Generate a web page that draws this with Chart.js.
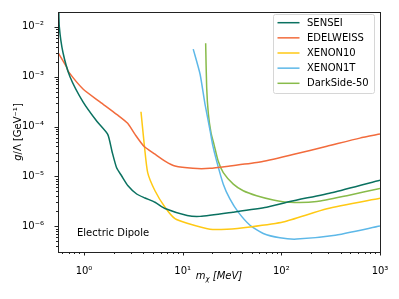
<!DOCTYPE html>
<html>
<head>
<meta charset="utf-8">
<script src="https://cdn.jsdelivr.net/npm/chart.js@4"></script>
<style>
  html, body { margin: 0; padding: 0; background: #fff; }
  #wrap { width: 399px; height: 299px; }
</style>
</head>
<body>
<div id="wrap"><canvas id="myChart" width="399" height="299"></canvas></div>
<script>
// curves, mass in MeV, coupling in GeV^-1
const labels = ["SENSEI", "EDELWEISS", "XENON10", "XENON1T", "DarkSide-50"];
const colors = ["#0a7160", "#f26b3c", "#ffc914", "#5db8e8", "#88bb4a"];

const senseiM = [0.553, 0.562, 0.612, 0.721, 0.977, 1.355, 1.74, 1.92, 2.14, 2.41, 2.79, 3.42, 4.15, 5.24, 6.62, 11.1, 15.0, 32.3, 71, 122, 333, 1000];
const senseiG = [3e-2, 1e-2, 3.05e-3, 1e-3, 3.13e-4, 1.26e-4, 6.95e-5, 3.2e-5, 1.49e-5, 1.02e-5, 6.5e-6, 4.44e-6, 3.7e-6, 3.03e-6, 2.27e-6, 1.65e-6, 1.58e-6, 1.92e-6, 2.41e-6, 3.13e-6, 4.78e-6, 8.4e-6];

const edelM = [0.545, 0.668, 0.689, 0.977, 1.45, 2.16, 2.77, 3.29, 4.05, 5.24, 6.62, 8.36, 12.7, 18.9, 30.1, 60.7, 131, 290, 625, 1000];
const edelG = [3.05e-3, 1.54e-3, 1.29e-3, 5.65e-4, 3.12e-4, 1.73e-4, 1.16e-4, 6.95e-5, 4.02e-5, 2.79e-5, 2.03e-5, 1.61e-5, 1.45e-5, 1.45e-5, 1.62e-5, 1.94e-5, 2.75e-5, 4.02e-5, 5.86e-5, 7.05e-5];

const xe10M = [3.78, 4.08, 4.42, 5.24, 6.62, 8.36, 11.1, 18.9, 28.1, 48.1, 104, 290, 1000];
const xe10G = [1.98e-4, 4.35e-5, 1.19e-5, 5.16e-6, 2.41e-6, 1.42e-6, 1.15e-6, 8.72e-7, 8.72e-7, 9.7e-7, 1.22e-6, 2.24e-6, 3.63e-6];

const xe1tM = [12.8, 15.0, 16.8, 18.9, 20.1, 22.1, 25.8, 30.1, 36.6, 48.1, 65.6, 96.8, 143, 336, 1000];
const xe1tG = [3.56e-3, 1.13e-3, 2.89e-4, 8.6e-5, 4.35e-5, 2.03e-5, 7.0e-6, 3.54e-6, 1.92e-6, 1.05e-6, 7.16e-7, 5.86e-7, 5.53e-7, 6.5e-7, 1.01e-6];

const dsM = [17.1, 17.5, 18.2, 19.4, 20.8, 22.9, 25.8, 32.6, 41.1, 56.2, 82.8, 122, 229, 462, 1000];
const dsG = [4.67e-3, 6.19e-4, 1.83e-4, 7.36e-5, 4.35e-5, 2.03e-5, 1.19e-5, 7.0e-6, 5.16e-6, 4.11e-6, 3.38e-6, 3.03e-6, 3.13e-6, 4.11e-6, 5.73e-6];

const xTicks = [1, 10, 100, 1000];
const yTicks = [1e-6, 1e-5, 1e-4, 1e-3, 1e-2];
const xMin = 0.545, xMax = 1000;
const yMin = 3.05e-7, yMax = 0.0198;

const sup = { "-": "⁻", "0": "⁰", "1": "¹", "2": "²", "3": "³", "4": "⁴", "5": "⁵", "6": "⁶", "7": "⁷", "8": "⁸", "9": "⁹" };
const powLabel = (v) => {
    const e = String(Math.round(Math.log10(v)));
    return "10" + e.split("").map(c => sup[c]).join("");
};

const pairs = (xs, ys) => xs.map((x, i) => ({ x: x, y: ys[i] }));
const series = [[senseiM, senseiG], [edelM, edelG], [xe10M, xe10G], [xe1tM, xe1tG], [dsM, dsG]];

const datasets = [];
for (let i = 0; i < labels.length; i++) {
    datasets.push({
        label: labels[i],
        data: pairs(series[i][0], series[i][1]),
        borderColor: colors[i],
        backgroundColor: colors[i],
        borderWidth: 1.5,
        pointRadius: 0,
        tension: 0.2,
        fill: false
    });
}

// frame, minor/major ticks, axis titles, legend and annotation
const decor = {
    id: "decor",
    afterDraw(chart) {
        const ctx = chart.ctx;
        const a = chart.chartArea;
        const xs = chart.scales.x, ys = chart.scales.y;
        ctx.save();
        ctx.strokeStyle = "#222";
        ctx.lineWidth = 1;

        // ticks
        const tick = (px, py, dx, dy) => {
            ctx.beginPath();
            ctx.moveTo(px, py);
            ctx.lineTo(px + dx, py + dy);
            ctx.stroke();
        };
        for (let e = -1; e <= 3; e++) {
            for (let k = 1; k <= 9; k++) {
                const v = k * Math.pow(10, e);
                if (v < xMin || v > xMax) continue;
                const px = Math.round(xs.getPixelForValue(v)) + 0.5;
                tick(px, a.bottom, 0, k == 1 ? 3.5 : 2);
            }
        }
        for (let e = -7; e <= -2; e++) {
            for (let k = 1; k <= 9; k++) {
                const v = k * Math.pow(10, e);
                if (v < yMin || v > yMax) continue;
                const py = Math.round(ys.getPixelForValue(v)) + 0.5;
                tick(a.left, py, k == 1 ? -3.5 : -2, 0);
            }
        }
        ctx.strokeRect(Math.round(a.left) + 0.5, Math.round(a.top) + 0.5, Math.round(a.right - a.left), Math.round(a.bottom - a.top));

        ctx.fillStyle = "#000";
        ctx.textBaseline = "middle";

        // x title: m_chi [MeV]
        const f1 = "italic 10px 'DejaVu Sans'";
        const f2 = "italic 7px 'DejaVu Sans'";
        ctx.font = f1;
        const wm = ctx.measureText("m").width;
        const wr = ctx.measureText(" [MeV]").width;
        ctx.font = f2;
        const wc = ctx.measureText("χ").width;
        let x0 = (a.left + a.right) / 2 - (wm + wc + wr) / 2;
        const yT = 276;
        ctx.textAlign = "left";
        ctx.font = f1;
        ctx.fillText("m", x0, yT);
        ctx.font = f2;
        ctx.fillText("χ", x0 + wm, yT + 3);
        ctx.font = f1;
        ctx.fillText(" [MeV]", x0 + wm + wc, yT);

        // y title
        ctx.save();
        ctx.translate(18, (a.top + a.bottom) / 2);
        ctx.rotate(-Math.PI / 2);
        ctx.font = "italic 10px 'DejaVu Sans'";
        const wg = ctx.measureText("g").width;
        ctx.font = "10px 'DejaVu Sans'";
        const rest = "/Λ [GeV⁻¹]";
        const wrest = ctx.measureText(rest).width;
        const y0 = -(wg + wrest) / 2;
        ctx.font = "italic 10px 'DejaVu Sans'";
        ctx.fillText("g", y0, 0);
        ctx.font = "10px 'DejaVu Sans'";
        ctx.fillText(rest, y0 + wg, 0);
        ctx.restore();

        // annotation
        ctx.font = "10px 'DejaVu Sans'";
        ctx.fillText("Electric Dipole", 77, 233);

        // legend
        const bx = 273.5, by = 14.5, bw = 101, bh = 79;
        ctx.beginPath();
        ctx.roundRect(bx, by, bw, bh, 2);
        ctx.fillStyle = "rgba(255,255,255,0.8)";
        ctx.fill();
        ctx.strokeStyle = "#d6d6d6";
        ctx.stroke();
        chart.data.datasets.forEach((ds, i) => {
            const ly = 22.7 + i * 15.15;
            ctx.strokeStyle = ds.borderColor;
            ctx.lineWidth = 1.5;
            ctx.beginPath();
            ctx.moveTo(277.5, ly);
            ctx.lineTo(299.5, ly);
            ctx.stroke();
            ctx.fillStyle = "#000";
            ctx.font = "10px 'DejaVu Sans'";
            ctx.fillText(ds.label, 307, ly + 0.5);
        });
        ctx.restore();
    }
};

const ctx = document.getElementById("myChart").getContext("2d");
const myChart = new Chart(ctx, {
    type: "line",
    data: { datasets: datasets },
    options: {
        responsive: false,
        animation: false,
        layout: { padding: { left: 0, right: 19, top: 9, bottom: 0 } },
        plugins: { legend: { display: false }, tooltip: { enabled: false } },
        scales: {
            x: {
                type: "logarithmic",
                min: xMin,
                max: xMax,
                grid: { display: false },
                border: { display: false },
                afterBuildTicks: (s) => { s.ticks = xTicks.map(v => ({ value: v })); },
                afterFit: (s) => { s.height = 47; },
                ticks: {
                    autoSkip: false,
                    maxRotation: 0,
                    padding: 5,
                    color: "#000",
                    font: { family: "DejaVu Sans", size: 10 },
                    callback: (v) => powLabel(v)
                }
            },
            y: {
                type: "logarithmic",
                min: yMin,
                max: yMax,
                grid: { display: false },
                border: { display: false },
                afterBuildTicks: (s) => { s.ticks = yTicks.map(v => ({ value: v })); },
                afterFit: (s) => { s.width = 58; },
                ticks: {
                    autoSkip: false,
                    padding: 6,
                    color: "#000",
                    font: { family: "DejaVu Sans", size: 10 },
                    callback: (v) => powLabel(v)
                }
            }
        }
    },
    plugins: [decor]
});
</script>
</body>
</html>
